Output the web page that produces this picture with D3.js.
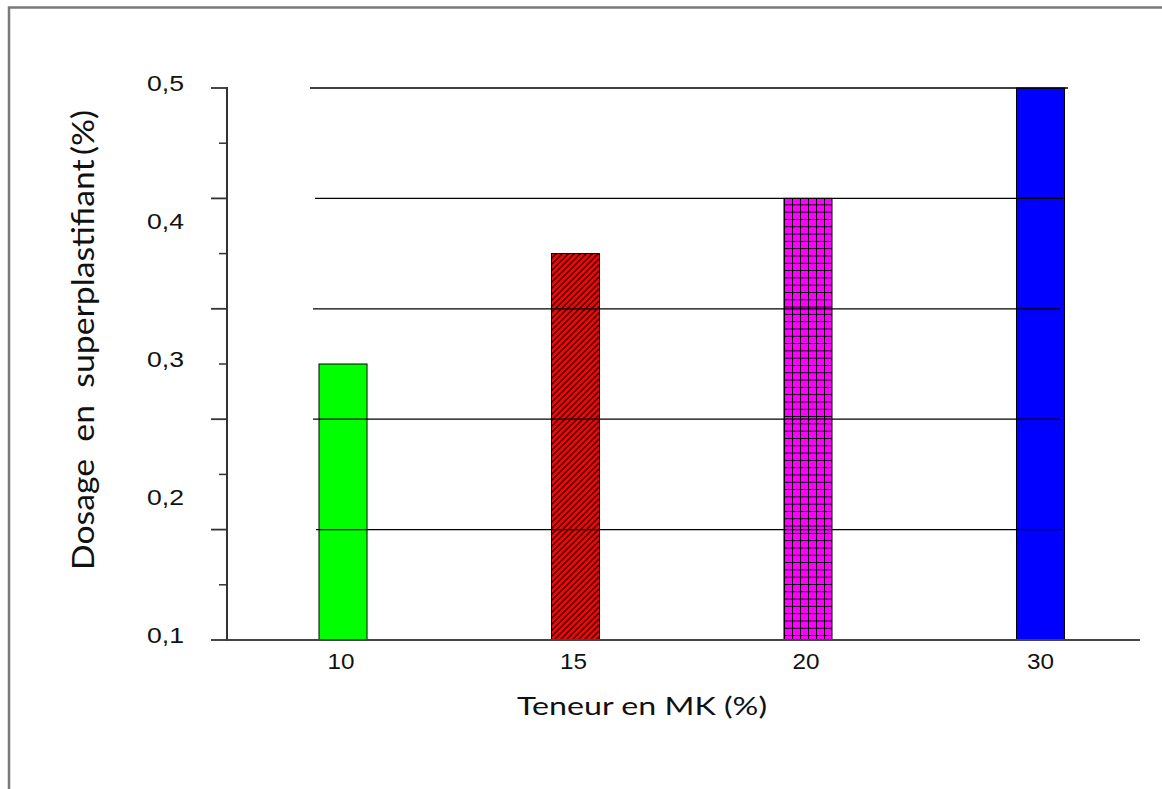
<!DOCTYPE html>
<html>
<head>
<meta charset="utf-8">
<script src="https://cdn.jsdelivr.net/npm/d3@7"></script>
<style>
  html, body { margin: 0; padding: 0; background: #fff; }
  svg { display: block; }
</style>
</head>
<body>
<svg id="chart" width="1162" height="789"></svg>
<script>
// ---- data ----
const categories = ["10", "15", "20", "30"];
const dosage = [0.30, 0.38, 0.42, 0.50];
const barFills = ["green", "redHatch", "magentaGrid", "blue"];
const yTickLabels = [0.1, 0.2, 0.3, 0.4, 0.5];
const yGridValues = [0.50, 0.42, 0.34, 0.26, 0.18];
const yMajorTicks = [0.10, 0.18, 0.26, 0.34, 0.42, 0.50];
const yMinorTicks = [0.14, 0.22, 0.30, 0.38, 0.46];
const xTitle = "Teneur en MK (%)";
const yTitle = "Dosage\u00A0\u00A0en\u00A0\u00A0superplastifiant\u2009(%)";

const svg = d3.select("#chart");

// frame
svg.append("path")
  .attr("d", "M9,789 V7.5 H1162")
  .attr("fill", "none").attr("stroke", "#7a7a7a").attr("stroke-width", 2.5);

// patterns
const defs = svg.append("defs");
const hatch = defs.append("pattern").attr("id", "redHatch")
  .attr("patternUnits", "userSpaceOnUse").attr("width", 6).attr("height", 6);
hatch.append("rect").attr("width", 6).attr("height", 6).attr("fill", "#ff0000");
hatch.append("path").attr("d", "M-1,1 l2,-2 M0,6 l6,-6 M5,7 l2,-2")
  .attr("stroke", "#000").attr("stroke-width", 1.3);

const grid = defs.append("pattern").attr("id", "magentaGrid")
  .attr("patternUnits", "userSpaceOnUse").attr("width", 8).attr("height", 7.3);
grid.append("rect").attr("width", 8).attr("height", 7.3).attr("fill", "#ff00ff");
grid.append("path").attr("d", "M0,0 V7.3 M0,0 H8")
  .attr("stroke", "#000").attr("stroke-width", 2);

const fillFor = {
  green: "#00ff00",
  blue: "#0000ff",
  redHatch: "url(#redHatch)",
  magentaGrid: "url(#magentaGrid)"
};

// scales
const y = d3.scaleLinear().domain([0.1, 0.5]).range([640, 88]);
const x = d3.scaleBand().domain(categories).range([227, 1156.5])
  .paddingInner(0.7935).paddingOuter(0.3957);

// bars
svg.append("g").selectAll("rect").data(categories).join("rect")
  .attr("x", d => x(d))
  .attr("y", (d, i) => y(dosage[i]))
  .attr("width", x.bandwidth())
  .attr("height", (d, i) => y(0.1) - y(dosage[i]))
  .attr("fill", (d, i) => fillFor[barFills[i]])
  .attr("stroke", "#000").attr("stroke-width", 1);

// gridlines (drawn over the bars, as in the reference)
const gridExt = [[310, 1068], [315, 1063], [313, 1060], [313, 1060], [316, 1062]];
svg.append("g").selectAll("line").data(yGridValues).join("line")
  .attr("x1", (d, i) => gridExt[i][0]).attr("x2", (d, i) => gridExt[i][1])
  .attr("y1", d => y(d)).attr("y2", d => y(d))
  .attr("stroke", "#000").attr("stroke-width", 1.3);

// y axis line and ticks
const yAxisG = svg.append("g").attr("stroke", "#333");
yAxisG.append("line").attr("x1", 227).attr("x2", 227).attr("y1", y(0.5) - 1).attr("y2", y(0.1) + 1)
  .attr("stroke-width", 2);
yAxisG.selectAll(".maj").data(yMajorTicks).join("line").attr("class", "maj")
  .attr("x1", 211).attr("x2", 227).attr("y1", d => y(d)).attr("y2", d => y(d)).attr("stroke-width", 1.8);
yAxisG.selectAll(".min").data(yMinorTicks).join("line").attr("class", "min")
  .attr("x1", 219).attr("x2", 227).attr("y1", d => y(d)).attr("y2", d => y(d)).attr("stroke-width", 1.5);

// y tick labels
svg.append("g").selectAll("text").data(yTickLabels).join("text")
  .attr("x", 184).attr("y", d => y(d) - 5)
  .attr("text-anchor", "end").attr("dominant-baseline", "central")
  .style("font-family", "'Liberation Sans', Arial, sans-serif").style("font-size", "22px")
  .attr("textLength", 37).attr("lengthAdjust", "spacingAndGlyphs")
  .attr("fill", "#111")
  .text(d => d3.format(".1f")(d).replace(".", ","));

// x axis line
svg.append("line").attr("x1", 227).attr("x2", 1140).attr("y1", 640).attr("y2", 640)
  .attr("stroke", "#444").attr("stroke-width", 2);

// x tick labels
svg.append("g").selectAll("text").data(categories).join("text")
  .attr("x", (d, i) => x(d) + x.bandwidth() / 2 - (i < 3 ? 2 : 0)).attr("y", 661)
  .attr("text-anchor", "middle").attr("dominant-baseline", "central")
  .style("font-family", "'Liberation Sans', Arial, sans-serif").style("font-size", "22px")
  .attr("textLength", 27).attr("lengthAdjust", "spacingAndGlyphs")
  .attr("fill", "#111")
  .text(d => d);

// axis titles
svg.append("text").attr("x", 642).attr("y", 705)
  .attr("text-anchor", "middle").attr("dominant-baseline", "central")
  .style("font-family", "Lato, 'Open Sans', sans-serif").style("font-size", "25px")
  .attr("textLength", 250).attr("lengthAdjust", "spacingAndGlyphs")
  .attr("fill", "#111").text(xTitle);

svg.append("text")
  .attr("transform", "translate(82,340) rotate(-90)")
  .attr("text-anchor", "middle").attr("dominant-baseline", "central")
  .style("font-family", "Lato, 'Open Sans', sans-serif").style("font-size", "31px")
  .attr("textLength", 460).attr("lengthAdjust", "spacingAndGlyphs")
  .attr("fill", "#111").text(yTitle);
</script>
</body>
</html>
